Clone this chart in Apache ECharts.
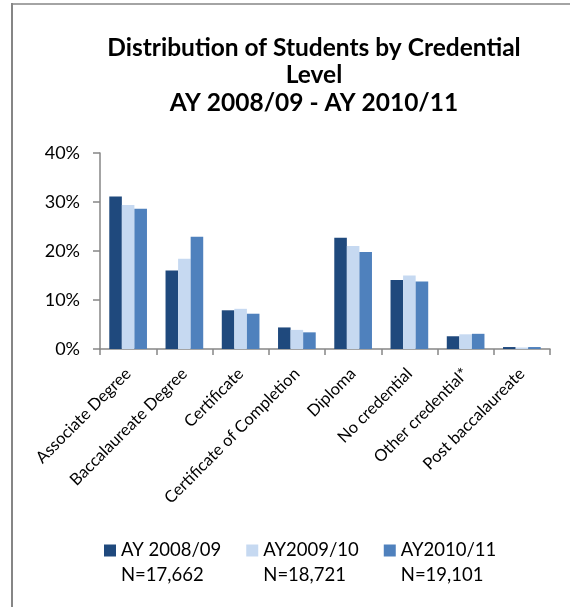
<!DOCTYPE html>
<html>
<head>
<meta charset="utf-8">
<script src="https://cdn.jsdelivr.net/npm/echarts@6/dist/echarts.min.js"></script>
<style>
  html, body { margin: 0; padding: 0; background: #fff; }
  #chart { width: 570px; height: 607px; }
</style>
</head>
<body>
<div id="chart"></div>
<script>
// Credential levels on the category axis
const categories = [
  'Associate Degree', 'Baccalaureate Degree', 'Certificate',
  'Certificate of Completion', 'Diploma', 'No credential',
  'Other credential*', 'Post baccalaureate'
];

// Share of students per credential level (percent)
const ay0809 = [31.1, 16.0, 7.9, 4.4, 22.7, 14.1, 2.6, 0.4];
const ay0910 = [29.4, 18.4, 8.2, 3.9, 21.0, 15.0, 3.0, 0.3];
const ay1011 = [28.6, 22.9, 7.2, 3.4, 19.8, 13.8, 3.1, 0.4];

const seriesNames = ['AY 2008/09', 'AY2009/10', 'AY2010/11'];
const headcounts = ['N=17,662', 'N=18,721', 'N=19,101'];
const seriesColors = ['#1f497d', '#c6d9f1', '#4f81bd'];

const yTicks = [0, 10, 20, 30, 40];

const font = 'Lato, "Liberation Sans", sans-serif';
const axisGray = '#868686';

const chart = echarts.init(document.getElementById('chart'));

const seriesData = [ay0809, ay0910, ay1011];

chart.setOption({
  animation: false,
  backgroundColor: '#fff',
  title: {
    text: 'Distribution of Students by Credential\nLevel\nAY 2008/09 - AY 2010/11',
    left: 309,
    textAlign: 'center',
    top: 29,
    textStyle: {
      fontFamily: font,
      fontWeight: 'bold',
      fontSize: 24.5,
      lineHeight: 27.5,
      color: '#000'
    }
  },
  legend: {
    data: seriesNames,
    left: 104,
    top: 513,
    padding: 0,
    itemWidth: 12,
    itemHeight: 12,
    itemGap: 25,
    itemTextGap: 6,
    icon: 'rect',
    // a leading blank line keeps the swatch level with the first text line
    formatter: function (name) {
      return '\u00a0\n' + name + '\n' + headcounts[seriesNames.indexOf(name)];
    },
    textStyle: {
      fontFamily: font,
      fontSize: 18.5,
      lineHeight: 25,
      color: '#000'
    }
  },
  grid: {
    left: 100,
    right: 20,
    top: 153,
    bottom: 258,
    containLabel: false
  },
  xAxis: {
    type: 'category',
    data: categories,
    axisLine: { lineStyle: { color: axisGray, width: 1.5 } },
    axisTick: { show: true, length: 6, lineStyle: { color: axisGray, width: 1.5 } },
    axisLabel: {
      rotate: 45,
      interval: 0,
      margin: 22,
      fontFamily: font,
      fontSize: 16.5,
      color: '#000'
    }
  },
  yAxis: {
    type: 'value',
    min: yTicks[0],
    max: yTicks[yTicks.length - 1],
    interval: 10,
    splitLine: { show: false },
    axisLine: { show: true, lineStyle: { color: axisGray, width: 1.5 } },
    axisTick: { show: true, length: 7, lineStyle: { color: axisGray, width: 1.5 } },
    axisLabel: {
      formatter: '{value}%',
      margin: 20,
      fontFamily: font,
      fontSize: 18,
      color: '#000'
    }
  },
  series: seriesNames.map(function (name, i) {
    return {
      name: name,
      type: 'bar',
      data: seriesData[i],
      barGap: '0%',
      barCategoryGap: '33%',
      itemStyle: { color: seriesColors[i] }
    };
  }),
  graphic: [
    {
      type: 'line',
      shape: { x1: 12, y1: 3, x2: 12, y2: 607 },
      style: { stroke: axisGray, lineWidth: 2 }
    },
    {
      type: 'line',
      shape: { x1: 11, y1: 4, x2: 570, y2: 4 },
      style: { stroke: axisGray, lineWidth: 1.5 }
    }
  ]
});
</script>
</body>
</html>
